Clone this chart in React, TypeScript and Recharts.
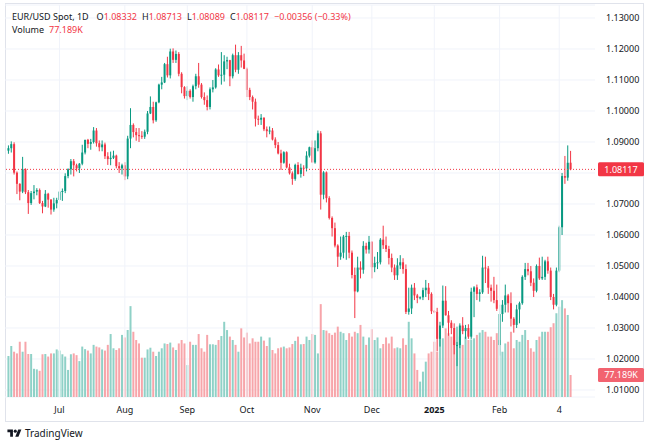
import React from 'react';
import { ComposedChart, Bar, XAxis, YAxis, CartesianGrid, ReferenceLine, Cell } from 'recharts';

const UP = '#089981';
const DOWN = '#f23645';
const UP_VOL = '#8fd1c7';
const DOWN_VOL = '#f7a5aa';
const FONT = '"Noto Sans", Roboto, sans-serif';

const open = [
  1.0872, 1.0880, 1.0893, 1.0801, 1.0765, 1.0740, 1.0812, 1.0738, 1.0703, 1.0735,
  1.0740, 1.0745, 1.0703, 1.0692, 1.0733, 1.0714, 1.0682, 1.0702, 1.0713, 1.0740,
  1.0742, 1.0790, 1.0812, 1.0838, 1.0825, 1.0815, 1.0830, 1.0866, 1.0907, 1.0894,
  1.0900, 1.0937, 1.0896, 1.0883, 1.0892, 1.0854, 1.0845, 1.0849, 1.0856, 1.0822,
  1.0815, 1.0825, 1.0789, 1.0911, 1.0955, 1.0932, 1.0922, 1.0920, 1.0917, 1.0933,
  1.0992, 1.1013, 1.0970, 1.1028, 1.1085, 1.1092, 1.1151, 1.1115, 1.1192, 1.1165,
  1.1184, 1.1120, 1.1077, 1.1048, 1.1065, 1.1045, 1.1080, 1.1112, 1.1085, 1.1045,
  1.1035, 1.1013, 1.1070, 1.1076, 1.1134, 1.1115, 1.1117, 1.1160, 1.1164, 1.1112,
  1.1180, 1.1133, 1.1180, 1.1163, 1.1136, 1.1068, 1.1045, 1.1030, 1.0975, 1.0972,
  1.0978, 1.0941, 1.0935, 1.0937, 1.0908, 1.0890, 1.0863, 1.0833, 1.0867, 1.0818,
  1.0799, 1.0781, 1.0826, 1.0797, 1.0817, 1.0815, 1.0856, 1.0883, 1.0834, 1.0880,
  1.0928, 1.0730, 1.0802, 1.0719, 1.0655, 1.0622, 1.0566, 1.0530, 1.0543, 1.0595,
  1.0597, 1.0543, 1.0471, 1.0418, 1.0495, 1.0488, 1.0565, 1.0553, 1.0578, 1.0496,
  1.0510, 1.0512, 1.0585, 1.0567, 1.0555, 1.0526, 1.0495, 1.0470, 1.0502, 1.0512,
  1.0490, 1.0352, 1.0363, 1.0430, 1.0405, 1.0397, 1.0399, 1.0422, 1.0430, 1.0410,
  1.0354, 1.0352, 1.0265, 1.0308, 1.0388, 1.0341, 1.0317, 1.0300, 1.0245, 1.0245,
  1.0308, 1.0290, 1.0300, 1.0272, 1.0417, 1.0431, 1.0410, 1.0415, 1.0495, 1.0492,
  1.0430, 1.0420, 1.0390, 1.0245, 1.0345, 1.0375, 1.0405, 1.0380, 1.0330, 1.0310,
  1.0360, 1.0380, 1.0465, 1.0490, 1.0483, 1.0446, 1.0420, 1.0500, 1.0460, 1.0465,
  1.0515, 1.0485, 1.0400, 1.0375, 1.0485, 1.0625, 1.0790, 1.0785, 1.08332,
];

const high = [
  1.0889, 1.0902, 1.0899, 1.0805, 1.0767, 1.0852, 1.0815, 1.0745, 1.0742, 1.0761,
  1.0751, 1.0750, 1.0710, 1.0745, 1.0736, 1.0716, 1.0720, 1.0720, 1.0776, 1.0750,
  1.0799, 1.0815, 1.0845, 1.0845, 1.0830, 1.0832, 1.0891, 1.0907, 1.0910, 1.0910,
  1.0948, 1.0945, 1.0905, 1.0905, 1.0898, 1.0867, 1.0869, 1.0872, 1.0859, 1.0835,
  1.0830, 1.0835, 1.0920, 1.1009, 1.0960, 1.0945, 1.0945, 1.0935, 1.0940, 1.1000,
  1.1047, 1.1030, 1.1030, 1.1088, 1.1110, 1.1155, 1.1175, 1.1201, 1.1202, 1.1195,
  1.1190, 1.1125, 1.1080, 1.1080, 1.1070, 1.1085, 1.1120, 1.1155, 1.1090, 1.1060,
  1.1050, 1.1076, 1.1100, 1.1138, 1.1150, 1.1190, 1.1180, 1.1175, 1.1165, 1.1185,
  1.1214, 1.1190, 1.1210, 1.1185, 1.1140, 1.1075, 1.1050, 1.1040, 1.0985, 1.0990,
  1.0980, 1.0950, 1.0950, 1.0945, 1.0915, 1.0900, 1.0875, 1.0870, 1.0870, 1.0830,
  1.0805, 1.0830, 1.0835, 1.0830, 1.0825, 1.0870, 1.0885, 1.0905, 1.0905, 1.0937,
  1.0935, 1.0806, 1.0805, 1.0725, 1.0660, 1.0640, 1.0570, 1.0595, 1.0600, 1.0610,
  1.0610, 1.0550, 1.0495, 1.0530, 1.0515, 1.0580, 1.0575, 1.0597, 1.0580, 1.0530,
  1.0545, 1.0590, 1.0630, 1.0595, 1.0565, 1.0540, 1.0505, 1.0525, 1.0535, 1.0525,
  1.0505, 1.0430, 1.0440, 1.0445, 1.0410, 1.0402, 1.0430, 1.0455, 1.0445, 1.0415,
  1.0358, 1.0365, 1.0320, 1.0437, 1.0435, 1.0355, 1.0325, 1.0315, 1.0255, 1.0315,
  1.0335, 1.0310, 1.0312, 1.0430, 1.0435, 1.0440, 1.0425, 1.0533, 1.0530, 1.0500,
  1.0440, 1.0465, 1.0440, 1.0375, 1.0390, 1.0440, 1.0410, 1.0415, 1.0335, 1.0375,
  1.0385, 1.0470, 1.0510, 1.0510, 1.0500, 1.0460, 1.0505, 1.0527, 1.0530, 1.0520,
  1.0530, 1.0495, 1.0410, 1.0495, 1.0630, 1.0800, 1.0855, 1.0889, 1.08713,
];

const low = [
  1.0862, 1.0866, 1.0795, 1.0732, 1.0712, 1.0735, 1.0732, 1.0668, 1.0697, 1.0715,
  1.0728, 1.0700, 1.0670, 1.0690, 1.0688, 1.0666, 1.0675, 1.0686, 1.0710, 1.0710,
  1.0735, 1.0783, 1.0795, 1.0789, 1.0805, 1.0800, 1.0825, 1.0860, 1.0880, 1.0875,
  1.0895, 1.0885, 1.0870, 1.0870, 1.0845, 1.0826, 1.0825, 1.0845, 1.0815, 1.0800,
  1.0795, 1.0777, 1.0780, 1.0880, 1.0915, 1.0904, 1.0900, 1.0910, 1.0910, 1.0925,
  1.0990, 1.0960, 1.0965, 1.1025, 1.1070, 1.1090, 1.1108, 1.1105, 1.1155, 1.1155,
  1.1112, 1.1057, 1.1040, 1.1035, 1.1040, 1.1030, 1.1070, 1.1075, 1.1040, 1.1020,
  1.1002, 1.1005, 1.1060, 1.1072, 1.1110, 1.1085, 1.1095, 1.1135, 1.1080, 1.1105,
  1.1125, 1.1120, 1.1140, 1.1135, 1.1045, 1.1035, 1.1005, 1.0950, 1.0955, 1.0955,
  1.0935, 1.0915, 1.0925, 1.0905, 1.0880, 1.0860, 1.0810, 1.0830, 1.0815, 1.0795,
  1.0762, 1.0775, 1.0795, 1.0785, 1.0790, 1.0805, 1.0850, 1.0834, 1.0830, 1.0870,
  1.0682, 1.0715, 1.0705, 1.0650, 1.0595, 1.0560, 1.0497, 1.0520, 1.0525, 1.0520,
  1.0525, 1.0460, 1.0332, 1.0415, 1.0460, 1.0475, 1.0540, 1.0540, 1.0460, 1.0480,
  1.0490, 1.0505, 1.0555, 1.0545, 1.0505, 1.0480, 1.0455, 1.0455, 1.0490, 1.0475,
  1.0345, 1.0343, 1.0345, 1.0390, 1.0380, 1.0392, 1.0390, 1.0400, 1.0390, 1.0345,
  1.0348, 1.0225, 1.0240, 1.0300, 1.0340, 1.0275, 1.0280, 1.0215, 1.0177, 1.0235,
  1.0280, 1.0265, 1.0265, 1.0265, 1.0335, 1.0390, 1.0385, 1.0410, 1.0445, 1.0410,
  1.0385, 1.0380, 1.0355, 1.0211, 1.0320, 1.0350, 1.0350, 1.0305, 1.0285, 1.0300,
  1.0315, 1.0375, 1.0455, 1.0470, 1.0435, 1.0400, 1.0415, 1.0455, 1.0455, 1.0455,
  1.0475, 1.0390, 1.0360, 1.0370, 1.0480, 1.0600, 1.0765, 1.0775, 1.08089,
];

const close = [
  1.0880, 1.0893, 1.0801, 1.0765, 1.0740, 1.0812, 1.0738, 1.0703, 1.0735, 1.0740,
  1.0745, 1.0703, 1.0692, 1.0733, 1.0714, 1.0682, 1.0702, 1.0713, 1.0740, 1.0742,
  1.0790, 1.0812, 1.0838, 1.0825, 1.0815, 1.0830, 1.0866, 1.0907, 1.0894, 1.0900,
  1.0937, 1.0896, 1.0883, 1.0892, 1.0854, 1.0845, 1.0849, 1.0856, 1.0822, 1.0815,
  1.0825, 1.0789, 1.0911, 1.0955, 1.0932, 1.0922, 1.0920, 1.0917, 1.0933, 1.0992,
  1.1013, 1.0970, 1.1028, 1.1085, 1.1092, 1.1151, 1.1115, 1.1192, 1.1165, 1.1184,
  1.1120, 1.1077, 1.1048, 1.1065, 1.1045, 1.1080, 1.1112, 1.1085, 1.1045, 1.1035,
  1.1013, 1.1070, 1.1076, 1.1134, 1.1115, 1.1117, 1.1160, 1.1164, 1.1112, 1.1180,
  1.1133, 1.1180, 1.1163, 1.1136, 1.1068, 1.1045, 1.1030, 1.0975, 1.0972, 1.0978,
  1.0941, 1.0935, 1.0937, 1.0908, 1.0890, 1.0863, 1.0833, 1.0867, 1.0818, 1.0799,
  1.0781, 1.0826, 1.0797, 1.0817, 1.0815, 1.0856, 1.0883, 1.0834, 1.0880, 1.0928,
  1.0730, 1.0802, 1.0719, 1.0655, 1.0622, 1.0566, 1.0530, 1.0543, 1.0595, 1.0597,
  1.0543, 1.0471, 1.0418, 1.0495, 1.0488, 1.0565, 1.0553, 1.0578, 1.0496, 1.0510,
  1.0512, 1.0585, 1.0567, 1.0555, 1.0526, 1.0495, 1.0470, 1.0502, 1.0512, 1.0490,
  1.0352, 1.0363, 1.0430, 1.0405, 1.0397, 1.0399, 1.0422, 1.0430, 1.0410, 1.0354,
  1.0352, 1.0265, 1.0308, 1.0388, 1.0341, 1.0317, 1.0300, 1.0245, 1.0245, 1.0308,
  1.0290, 1.0300, 1.0272, 1.0417, 1.0431, 1.0410, 1.0415, 1.0495, 1.0492, 1.0430,
  1.0420, 1.0390, 1.0362, 1.0345, 1.0375, 1.0405, 1.0380, 1.0330, 1.0310, 1.0360,
  1.0380, 1.0465, 1.0490, 1.0483, 1.0446, 1.0420, 1.0500, 1.0460, 1.0465, 1.0515,
  1.0485, 1.0400, 1.0375, 1.0485, 1.0625, 1.0790, 1.0785, 1.0833, 1.08117,
];

// volume in thousands
const volume = [
  144, 179, 159, 153, 194, 159, 194, 151, 151, 99,
  97, 92, 150, 151, 142, 153, 153, 167, 163, 150,
  142, 95, 150, 153, 147, 126, 177, 168, 163, 153,
  183, 177, 174, 167, 163, 183, 221, 171, 165, 171,
  218, 209, 235, 319, 229, 200, 188, 138, 138, 167,
  173, 159, 144, 159, 171, 188, 186, 191, 174, 165,
  188, 200, 188, 112, 194, 183, 183, 221, 171, 159,
  218, 185, 185, 183, 200, 214, 264, 235, 212, 200,
  183, 159, 241, 209, 226, 188, 206, 194, 194, 212,
  198, 179, 209, 165, 153, 171, 174, 177, 171, 174,
  186, 197, 212, 185, 186, 212, 200, 221, 218, 153,
  326,
  235, 233, 224, 218, 226, 247, 229, 224, 200, 224,
  212, 229, 224, 253, 212, 183, 209, 238, 200, 209,
  171, 186, 209, 188, 212, 171, 174, 171, 206, 183,
  264, 206, 153, 95, 54, 89, 124, 153, 159, 194,
  159, 206, 206, 241, 224, 212, 200, 247, 212, 183,
  212, 200, 202, 206, 218, 226, 235, 229, 212, 212,
  200, 224, 200, 159, 188, 194, 229, 171, 200, 194,
  218, 235, 200, 171, 159, 200, 212, 229, 229, 229,
  245, 259, 294, 317, 340, 311, 288, 77.189,
];

const monthTickIndex = [18, 41, 63, 84, 107, 128, 150, 173, 194];
const monthTickText = ['Jul', 'Aug', 'Sep', 'Oct', 'Nov', 'Dec', '2025', 'Feb', '4'];
const priceTicks = [1.01, 1.02, 1.03, 1.04, 1.05, 1.06, 1.07, 1.08, 1.09, 1.1, 1.11, 1.12, 1.13];
// tick label hidden by the last-price tag, as on the reference
const hiddenPriceTicks = [1.08];

const lastPrice = 1.08117;
const lastVolume = 77.189;
const changeText = '−0.00356 (−0.33%)';

const data = open.map((o, i) => ({
  i,
  o,
  h: high[i],
  l: low[i],
  c: close[i],
  v: volume[i],
  range: [low[i], high[i]],
}));

const tickLabel: Record<number, string> = {};
monthTickIndex.forEach((idx, k) => {
  tickLabel[idx] = monthTickText[k];
});

const Candle = (props: any) => {
  const { x, y, width, height, payload } = props;
  if (!payload || x == null || y == null) return <g />;
  const { o, h, l, c } = payload;
  const top = Math.min(y, y + height);
  const bot = Math.max(y, y + height);
  const span = h - l || 1e-9;
  const k = (bot - top) / span;
  const yO = top + (h - o) * k;
  const yC = top + (h - c) * k;
  const color = c >= o ? UP : DOWN;
  const cx = x + width / 2;
  const bw = Math.max(1.5, width);
  const bTop = Math.min(yO, yC);
  const bH = Math.max(1, Math.abs(yC - yO));
  return (
    <g>
      <line x1={cx} x2={cx} y1={top} y2={bot} stroke={color} strokeWidth={1} />
      <rect x={cx - bw / 2} y={bTop} width={bw} height={bH} fill={color} />
    </g>
  );
};

const MonthTick = (props: any) => {
  const { x, y, payload } = props;
  const lbl = tickLabel[payload.value];
  if (!lbl) return <g />;
  return (
    <text
      x={x}
      y={y + 8}
      textAnchor="middle"
      fontSize={9}
      fill="#131722"
      fontWeight={lbl === '2025' ? 700 : 400}
      fontFamily={FONT}
    >
      {lbl}
    </text>
  );
};

const PriceTick = (props: any) => {
  const { x, y, payload } = props;
  const v = payload.value as number;
  if (hiddenPriceTicks.some((h) => Math.abs(h - v) < 1e-9)) return <g />;
  return (
    <text x={x} y={y + 3.2} textAnchor="start" fontSize={9} fill="#131722" fontFamily={FONT}>
      {v.toFixed(5)}
    </text>
  );
};

const makeTag = (text: string, fill: string) => (p: any) => {
  const vb = p.viewBox || {};
  const right = (vb.x || 0) + (vb.width || 0);
  const cy = vb.y || 0;
  return (
    <g>
      <rect x={right + 3} y={cy - 7} width={46} height={14} rx={1.5} fill={fill} />
      <text
        x={right + 26}
        y={cy + 3.2}
        textAnchor="middle"
        fontSize={9}
        fill="#ffffff"
        fontFamily={FONT}
      >
        {text}
      </text>
    </g>
  );
};

const TVLogo = () => (
  <svg width={15} height={11} viewBox="0 0 36 28" style={{ display: 'block' }}>
    <path d="M14 22H7V11H0V4h14v18z" fill="#131722" />
    <circle cx={20} cy={8} r={4} fill="#131722" />
    <path d="M28 22h-8l7.5-18h8L28 22z" fill="#131722" />
  </svg>
);

export default function App() {
  const red = '#f23645';
  const n = open.length - 1;
  return (
    <div
      style={{
        position: 'absolute',
        left: 0,
        top: 0,
        width: 650,
        height: 443,
        background: '#ffffff',
        fontFamily: FONT,
        overflow: 'hidden',
      }}
    >
      <div
        style={{
          position: 'absolute',
          left: 5,
          top: 3,
          width: 639,
          height: 419,
          border: '1px solid #e0e3eb',
          boxSizing: 'border-box',
        }}
      />
      <div style={{ position: 'absolute', left: 0, top: 0 }}>
        <ComposedChart
          width={650}
          height={418}
          data={data}
          margin={{ top: 5, right: 0, left: 5, bottom: 1 }}
          barCategoryGap="15%"
        >
          <CartesianGrid xAxisId="c" yAxisId="p" vertical={false} stroke="#f0f3fa" />
          <XAxis
            xAxisId="c"
            dataKey="i"
            type="category"
            interval={0}
            padding={{ left: 2, right: 23 }}
            tick={<MonthTick />}
            tickLine={false}
            axisLine={false}
            height={20}
          />
          <XAxis xAxisId="v" dataKey="i" type="category" padding={{ left: 2, right: 23 }} hide />
          <YAxis
            yAxisId="p"
            orientation="right"
            domain={[1.00774, 1.13419]}
            allowDataOverflow
            ticks={priceTicks}
            tick={<PriceTick />}
            tickLine={false}
            axisLine={false}
            tickMargin={5}
            width={55}
          />
          <YAxis yAxisId="v" domain={[0, 1376]} allowDataOverflow hide />
          {monthTickIndex.map((idx) => (
            <ReferenceLine
              key={'g' + idx}
              xAxisId="c"
              yAxisId="p"
              x={idx}
              stroke="#f0f3fa"
              strokeWidth={1}
            />
          ))}
          <Bar xAxisId="v" yAxisId="v" dataKey="v" isAnimationActive={false}>
            {data.map((d) => (
              <Cell key={'v' + d.i} fill={d.c >= d.o ? UP_VOL : DOWN_VOL} />
            ))}
          </Bar>
          <Bar
            xAxisId="c"
            yAxisId="p"
            dataKey="range"
            isAnimationActive={false}
            shape={<Candle />}
          />
          <ReferenceLine
            xAxisId="c"
            yAxisId="p"
            y={lastPrice}
            stroke={red}
            strokeWidth={1}
            strokeDasharray="1 2"
            label={makeTag(lastPrice.toFixed(5), red)}
          />
          <ReferenceLine
            xAxisId="v"
            yAxisId="v"
            y={lastVolume}
            stroke="#ffffff"
            strokeOpacity={0}
            label={makeTag(lastVolume.toFixed(3) + 'K', '#f26370')}
          />
        </ComposedChart>
      </div>
      <div
        style={{
          position: 'absolute',
          left: 12,
          top: 10,
          fontSize: 9,
          lineHeight: '13px',
          color: '#131722',
          whiteSpace: 'nowrap',
        }}
      >
        <span>EUR/USD Spot, 1D</span>
        <span style={{ marginLeft: 8 }}>
          O<span style={{ color: red }}>{open[n].toFixed(5)}</span>
        </span>
        <span style={{ marginLeft: 5 }}>
          H<span style={{ color: red }}>{high[n].toFixed(5)}</span>
        </span>
        <span style={{ marginLeft: 5 }}>
          L<span style={{ color: red }}>{low[n].toFixed(5)}</span>
        </span>
        <span style={{ marginLeft: 5 }}>
          C<span style={{ color: red }}>{close[n].toFixed(5)}</span>
        </span>
        <span style={{ marginLeft: 5, color: red }}>{changeText}</span>
      </div>
      <div
        style={{
          position: 'absolute',
          left: 12,
          top: 23,
          fontSize: 9,
          lineHeight: '13px',
          color: '#131722',
          whiteSpace: 'nowrap',
        }}
      >
        <span>Volume</span>
        <span style={{ marginLeft: 5, color: red }}>{lastVolume.toFixed(3)}K</span>
      </div>
      <div
        style={{
          position: 'absolute',
          left: 7,
          top: 426,
          display: 'flex',
          alignItems: 'center',
          gap: 3,
          fontSize: 10,
          color: '#131722',
        }}
      >
        <TVLogo />
        <span>TradingView</span>
      </div>
    </div>
  );
}
